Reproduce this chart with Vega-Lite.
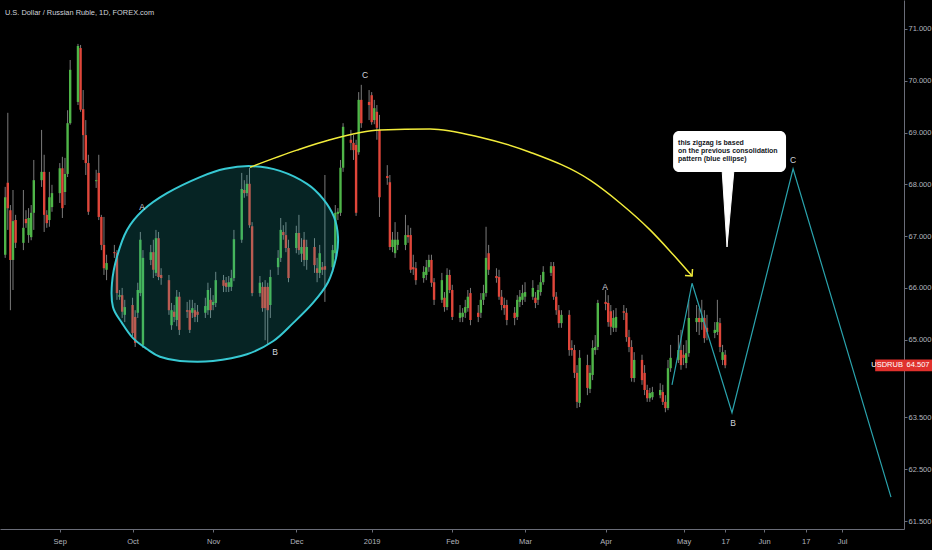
{
"$schema": "https://vega.github.io/schema/vega-lite/v6.json",
"width": 904, "height": 529,
"autosize": {"type": "none"},
"padding": {"left": 0, "top": 0, "right": 28, "bottom": 21},
"background": "#000000",
"config": {"view": {"stroke": null}, "font": "Liberation Sans, sans-serif"},
"datasets": {
"candles": [
{"d":"2018-08-10","o":65.61,"h":66.83,"l":65.54,"c":66.73},
{"d":"2018-08-13","o":66.64,"h":67.95,"l":66.58,"c":67.75},
{"d":"2018-08-14","o":68.03,"h":69.38,"l":67.12,"c":67.54},
{"d":"2018-08-15","o":67.50,"h":67.60,"l":65.57,"c":66.54},
{"d":"2018-08-16","o":66.54,"h":67.89,"l":65.96,"c":67.29},
{"d":"2018-08-17","o":67.31,"h":67.41,"l":66.77,"c":66.87},
{"d":"2018-08-20","o":66.87,"h":67.89,"l":66.73,"c":67.16},
{"d":"2018-08-21","o":67.33,"h":67.50,"l":67.16,"c":67.25},
{"d":"2018-08-22","o":67.02,"h":67.54,"l":66.87,"c":67.35},
{"d":"2018-08-23","o":66.98,"h":67.60,"l":66.92,"c":67.45},
{"d":"2018-08-24","o":67.45,"h":68.47,"l":67.12,"c":68.08},
{"d":"2018-08-27","o":68.08,"h":69.05,"l":67.95,"c":68.24},
{"d":"2018-08-28","o":68.24,"h":68.57,"l":67.08,"c":67.41},
{"d":"2018-08-29","o":67.41,"h":67.50,"l":67.16,"c":67.25},
{"d":"2018-08-30","o":67.31,"h":68.24,"l":67.18,"c":67.75},
{"d":"2018-08-31","o":67.56,"h":67.99,"l":67.47,"c":67.83},
{"d":"2018-09-03","o":67.83,"h":68.41,"l":67.64,"c":68.31},
{"d":"2018-09-04","o":68.31,"h":68.53,"l":67.35,"c":67.54},
{"d":"2018-09-05","o":67.85,"h":68.51,"l":67.60,"c":68.20},
{"d":"2018-09-06","o":68.20,"h":69.43,"l":68.14,"c":69.18},
{"d":"2018-09-07","o":69.18,"h":70.40,"l":69.15,"c":70.21},
{"d":"2018-09-10","o":69.59,"h":70.71,"l":69.53,"c":70.67},
{"d":"2018-09-11","o":70.63,"h":70.69,"l":69.40,"c":69.44},
{"d":"2018-09-12","o":69.45,"h":69.82,"l":68.47,"c":68.95},
{"d":"2018-09-13","o":68.95,"h":69.24,"l":68.18,"c":68.41},
{"d":"2018-09-14","o":68.41,"h":68.57,"l":67.41,"c":67.47},
{"d":"2018-09-17","o":68.06,"h":68.28,"l":67.93,"c":68.08},
{"d":"2018-09-18","o":68.22,"h":68.57,"l":67.31,"c":67.37},
{"d":"2018-09-19","o":67.37,"h":67.41,"l":66.73,"c":66.83},
{"d":"2018-09-20","o":66.83,"h":67.37,"l":66.25,"c":66.38},
{"d":"2018-09-21","o":66.35,"h":66.64,"l":66.15,"c":66.48},
{"d":"2018-09-24","o":66.69,"h":66.83,"l":66.58,"c":66.67},
{"d":"2018-09-25","o":66.67,"h":66.73,"l":65.77,"c":65.90},
{"d":"2018-09-26","o":65.83,"h":65.96,"l":65.77,"c":65.86},
{"d":"2018-09-27","o":65.86,"h":66.00,"l":65.42,"c":65.54},
{"d":"2018-09-28","o":65.48,"h":65.77,"l":65.34,"c":65.63},
{"d":"2018-10-01","o":65.67,"h":65.81,"l":65.07,"c":65.13},
{"d":"2018-10-02","o":65.44,"h":65.57,"l":64.86,"c":64.94},
{"d":"2018-10-03","o":65.52,"h":66.10,"l":65.42,"c":65.96},
{"d":"2018-10-04","o":65.90,"h":67.08,"l":65.84,"c":66.93},
{"d":"2018-10-05","o":64.90,"h":66.73,"l":64.84,"c":66.58},
{"d":"2018-10-08","o":66.54,"h":66.83,"l":66.44,"c":66.69},
{"d":"2018-10-09","o":66.69,"h":66.93,"l":66.19,"c":66.35},
{"d":"2018-10-10","o":66.29,"h":67.12,"l":66.23,"c":66.96},
{"d":"2018-10-11","o":66.96,"h":67.08,"l":66.15,"c":66.21},
{"d":"2018-10-12","o":66.25,"h":66.38,"l":66.06,"c":66.19},
{"d":"2018-10-15","o":66.15,"h":66.25,"l":65.48,"c":65.57},
{"d":"2018-10-16","o":65.28,"h":65.71,"l":65.19,"c":65.57},
{"d":"2018-10-17","o":65.54,"h":65.67,"l":65.34,"c":65.44},
{"d":"2018-10-18","o":65.38,"h":65.96,"l":65.26,"c":65.83},
{"d":"2018-10-19","o":65.83,"h":65.92,"l":65.09,"c":65.19},
{"d":"2018-10-22","o":65.57,"h":65.73,"l":65.42,"c":65.54},
{"d":"2018-10-23","o":65.57,"h":65.77,"l":65.13,"c":65.19},
{"d":"2018-10-24","o":65.52,"h":65.77,"l":65.42,"c":65.61},
{"d":"2018-10-25","o":65.57,"h":65.71,"l":65.34,"c":65.44},
{"d":"2018-10-26","o":65.54,"h":65.67,"l":65.34,"c":65.48},
{"d":"2018-10-29","o":65.52,"h":65.81,"l":65.42,"c":65.65},
{"d":"2018-10-30","o":65.57,"h":66.10,"l":65.48,"c":65.96},
{"d":"2018-10-31","o":65.77,"h":66.00,"l":65.42,"c":65.57},
{"d":"2018-11-01","o":65.67,"h":65.86,"l":65.57,"c":65.73},
{"d":"2018-11-02","o":65.71,"h":66.31,"l":65.63,"c":66.15},
{"d":"2018-11-05","o":66.15,"h":66.25,"l":65.92,"c":66.04},
{"d":"2018-11-06","o":66.10,"h":66.21,"l":65.92,"c":66.02},
{"d":"2018-11-07","o":66.02,"h":66.23,"l":65.92,"c":66.11},
{"d":"2018-11-08","o":66.02,"h":66.35,"l":65.94,"c":66.19},
{"d":"2018-11-09","o":66.19,"h":67.12,"l":66.13,"c":66.94},
{"d":"2018-11-12","o":66.93,"h":68.22,"l":66.87,"c":67.91},
{"d":"2018-11-13","o":67.89,"h":68.08,"l":67.74,"c":67.83},
{"d":"2018-11-14","o":67.83,"h":68.18,"l":67.77,"c":68.01},
{"d":"2018-11-15","o":68.01,"h":68.32,"l":67.16,"c":67.21},
{"d":"2018-11-16","o":67.19,"h":67.27,"l":65.84,"c":65.90},
{"d":"2018-11-19","o":65.90,"h":66.23,"l":65.83,"c":66.10},
{"d":"2018-11-20","o":66.02,"h":66.11,"l":65.54,"c":65.61},
{"d":"2018-11-21","o":66.02,"h":66.15,"l":64.99,"c":65.61},
{"d":"2018-11-22","o":66.02,"h":66.10,"l":64.90,"c":65.57},
{"d":"2018-11-23","o":65.67,"h":66.35,"l":65.42,"c":66.21},
{"d":"2018-11-26","o":66.40,"h":66.73,"l":66.25,"c":66.58},
{"d":"2018-11-27","o":66.58,"h":67.35,"l":66.50,"c":67.12},
{"d":"2018-11-28","o":67.08,"h":67.21,"l":66.93,"c":67.02},
{"d":"2018-11-29","o":67.02,"h":67.27,"l":66.69,"c":66.77},
{"d":"2018-11-30","o":66.77,"h":66.93,"l":66.11,"c":66.19},
{"d":"2018-12-03","o":66.77,"h":67.20,"l":66.67,"c":67.06},
{"d":"2018-12-04","o":67.06,"h":67.41,"l":66.64,"c":66.73},
{"d":"2018-12-05","o":66.66,"h":66.96,"l":66.50,"c":66.79},
{"d":"2018-12-06","o":66.93,"h":67.08,"l":66.42,"c":66.54},
{"d":"2018-12-07","o":66.54,"h":66.93,"l":66.35,"c":66.79},
{"d":"2018-12-10","o":66.79,"h":66.96,"l":66.29,"c":66.44},
{"d":"2018-12-11","o":66.38,"h":66.58,"l":66.11,"c":66.29},
{"d":"2018-12-12","o":66.29,"h":66.83,"l":66.19,"c":66.67},
{"d":"2018-12-13","o":66.40,"h":66.50,"l":66.25,"c":66.35},
{"d":"2018-12-14","o":66.42,"h":68.18,"l":65.73,"c":66.35},
{"d":"2018-12-17","o":66.40,"h":66.83,"l":66.31,"c":66.73},
{"d":"2018-12-18","o":66.67,"h":67.60,"l":66.58,"c":67.45},
{"d":"2018-12-19","o":67.43,"h":67.54,"l":67.31,"c":67.47},
{"d":"2018-12-20","o":67.45,"h":68.47,"l":67.39,"c":68.32},
{"d":"2018-12-21","o":68.32,"h":69.18,"l":68.24,"c":69.11},
{"d":"2018-12-24","o":68.86,"h":69.05,"l":68.66,"c":68.80},
{"d":"2018-12-25","o":68.80,"h":68.95,"l":68.47,"c":68.66},
{"d":"2018-12-26","o":68.76,"h":68.86,"l":67.39,"c":67.45},
{"d":"2018-12-27","o":68.62,"h":69.78,"l":68.57,"c":69.63},
{"d":"2018-12-28","o":69.63,"h":69.92,"l":69.09,"c":69.18},
{"d":"2018-12-31","o":69.59,"h":69.82,"l":69.24,"c":69.53},
{"d":"2019-01-01","o":69.72,"h":69.78,"l":69.15,"c":69.20},
{"d":"2019-01-02","o":69.24,"h":69.63,"l":69.16,"c":69.47},
{"d":"2019-01-03","o":69.40,"h":69.53,"l":68.86,"c":69.09},
{"d":"2019-01-04","o":69.05,"h":69.34,"l":67.37,"c":67.75},
{"d":"2019-01-07","o":68.16,"h":68.37,"l":67.99,"c":68.12},
{"d":"2019-01-08","o":68.04,"h":68.18,"l":66.73,"c":66.79},
{"d":"2019-01-09","o":66.79,"h":67.08,"l":66.69,"c":66.93},
{"d":"2019-01-10","o":66.67,"h":67.27,"l":66.58,"c":66.93},
{"d":"2019-01-11","o":66.83,"h":67.08,"l":66.73,"c":66.93},
{"d":"2019-01-14","o":66.83,"h":67.41,"l":66.73,"c":67.02},
{"d":"2019-01-15","o":67.02,"h":67.21,"l":66.87,"c":66.98},
{"d":"2019-01-16","o":67.02,"h":67.16,"l":66.29,"c":66.35},
{"d":"2019-01-17","o":66.40,"h":66.64,"l":66.25,"c":66.36},
{"d":"2019-01-18","o":66.38,"h":66.50,"l":66.06,"c":66.15},
{"d":"2019-01-21","o":66.19,"h":66.42,"l":66.10,"c":66.31},
{"d":"2019-01-22","o":66.25,"h":66.54,"l":66.15,"c":66.40},
{"d":"2019-01-23","o":66.40,"h":66.64,"l":66.31,"c":66.54},
{"d":"2019-01-24","o":66.54,"h":66.64,"l":66.02,"c":66.10},
{"d":"2019-01-25","o":66.11,"h":66.19,"l":65.67,"c":65.77},
{"d":"2019-01-28","o":65.77,"h":66.29,"l":65.71,"c":66.15},
{"d":"2019-01-29","o":65.81,"h":65.92,"l":65.54,"c":65.63},
{"d":"2019-01-30","o":65.63,"h":66.38,"l":65.57,"c":66.25},
{"d":"2019-01-31","o":66.25,"h":66.35,"l":65.90,"c":65.96},
{"d":"2019-02-01","o":65.96,"h":66.06,"l":65.38,"c":65.44},
{"d":"2019-02-04","o":65.42,"h":65.67,"l":65.34,"c":65.52},
{"d":"2019-02-05","o":65.44,"h":65.61,"l":65.34,"c":65.52},
{"d":"2019-02-06","o":65.52,"h":65.77,"l":65.42,"c":65.63},
{"d":"2019-02-07","o":65.61,"h":65.96,"l":65.54,"c":65.83},
{"d":"2019-02-08","o":65.90,"h":66.00,"l":65.28,"c":65.38},
{"d":"2019-02-11","o":65.52,"h":65.67,"l":65.34,"c":65.44},
{"d":"2019-02-12","o":65.52,"h":65.90,"l":65.42,"c":65.77},
{"d":"2019-02-13","o":65.77,"h":66.06,"l":65.67,"c":65.90},
{"d":"2019-02-14","o":65.90,"h":67.18,"l":65.83,"c":66.58},
{"d":"2019-02-15","o":66.67,"h":66.83,"l":66.25,"c":66.35},
{"d":"2019-02-18","o":66.23,"h":66.38,"l":66.10,"c":66.19},
{"d":"2019-02-19","o":66.21,"h":66.35,"l":65.77,"c":65.83},
{"d":"2019-02-20","o":65.83,"h":65.96,"l":65.57,"c":65.67},
{"d":"2019-02-21","o":65.67,"h":65.81,"l":65.48,"c":65.61},
{"d":"2019-02-22","o":65.67,"h":65.77,"l":65.28,"c":65.38},
{"d":"2019-02-25","o":65.52,"h":65.63,"l":65.28,"c":65.42},
{"d":"2019-02-26","o":65.44,"h":65.86,"l":65.38,"c":65.77},
{"d":"2019-02-27","o":65.73,"h":65.96,"l":65.63,"c":65.83},
{"d":"2019-02-28","o":65.77,"h":66.06,"l":65.67,"c":65.90},
{"d":"2019-03-01","o":65.83,"h":66.11,"l":65.73,"c":65.92},
{"d":"2019-03-04","o":65.83,"h":66.15,"l":65.77,"c":66.00},
{"d":"2019-03-05","o":65.81,"h":65.92,"l":65.61,"c":65.71},
{"d":"2019-03-06","o":65.77,"h":66.06,"l":65.67,"c":65.96},
{"d":"2019-03-07","o":65.92,"h":66.25,"l":65.85,"c":66.11},
{"d":"2019-03-08","o":66.11,"h":66.42,"l":66.06,"c":66.31},
{"d":"2019-03-11","o":66.29,"h":66.50,"l":66.23,"c":66.42},
{"d":"2019-03-12","o":66.42,"h":66.50,"l":65.77,"c":65.83},
{"d":"2019-03-13","o":65.83,"h":65.92,"l":65.48,"c":65.57},
{"d":"2019-03-14","o":65.57,"h":65.67,"l":65.23,"c":65.32},
{"d":"2019-03-15","o":65.32,"h":65.57,"l":65.23,"c":65.48},
{"d":"2019-03-18","o":65.48,"h":65.57,"l":64.69,"c":64.80},
{"d":"2019-03-19","o":64.84,"h":64.99,"l":64.69,"c":64.80},
{"d":"2019-03-20","o":64.80,"h":64.90,"l":64.26,"c":64.36},
{"d":"2019-03-21","o":64.36,"h":64.51,"l":63.68,"c":63.80},
{"d":"2019-03-22","o":63.78,"h":64.80,"l":63.70,"c":64.65},
{"d":"2019-03-25","o":64.51,"h":64.71,"l":63.93,"c":64.07},
{"d":"2019-03-26","o":64.05,"h":64.51,"l":63.97,"c":64.36},
{"d":"2019-03-27","o":64.32,"h":64.99,"l":64.22,"c":64.84},
{"d":"2019-03-28","o":64.80,"h":65.09,"l":64.71,"c":64.86},
{"d":"2019-03-29","o":64.86,"h":65.77,"l":64.80,"c":65.71},
{"d":"2019-04-01","o":65.73,"h":65.96,"l":65.57,"c":65.69},
{"d":"2019-04-02","o":65.71,"h":65.86,"l":65.25,"c":65.34},
{"d":"2019-04-03","o":65.55,"h":65.67,"l":65.09,"c":65.25},
{"d":"2019-04-04","o":65.23,"h":65.57,"l":65.15,"c":65.42},
{"d":"2019-04-05","o":65.23,"h":65.61,"l":65.15,"c":65.44},
{"d":"2019-04-08","o":65.55,"h":65.67,"l":65.38,"c":65.52},
{"d":"2019-04-09","o":65.52,"h":65.61,"l":64.96,"c":65.05},
{"d":"2019-04-10","o":65.05,"h":65.19,"l":64.76,"c":64.86},
{"d":"2019-04-11","o":64.86,"h":64.99,"l":64.19,"c":64.26},
{"d":"2019-04-12","o":64.26,"h":64.76,"l":64.18,"c":64.61},
{"d":"2019-04-15","o":64.61,"h":64.71,"l":64.13,"c":64.22},
{"d":"2019-04-16","o":64.36,"h":64.51,"l":63.93,"c":64.03},
{"d":"2019-04-17","o":64.03,"h":64.13,"l":63.80,"c":63.87},
{"d":"2019-04-18","o":63.87,"h":64.07,"l":63.80,"c":63.97},
{"d":"2019-04-19","o":63.89,"h":64.09,"l":63.84,"c":63.99},
{"d":"2019-04-22","o":63.93,"h":64.16,"l":63.87,"c":64.03},
{"d":"2019-04-23","o":63.99,"h":64.13,"l":63.74,"c":63.80},
{"d":"2019-04-24","o":63.80,"h":63.93,"l":63.60,"c":63.68},
{"d":"2019-04-25","o":63.68,"h":64.61,"l":63.64,"c":64.45},
{"d":"2019-04-26","o":64.45,"h":64.90,"l":64.38,"c":64.65},
{"d":"2019-04-29","o":64.61,"h":65.09,"l":64.55,"c":64.80},
{"d":"2019-04-30","o":64.80,"h":65.19,"l":64.42,"c":64.51},
{"d":"2019-05-01","o":64.71,"h":64.90,"l":64.51,"c":64.65},
{"d":"2019-05-02","o":64.55,"h":64.99,"l":64.45,"c":64.74},
{"d":"2019-05-03","o":64.74,"h":65.77,"l":64.67,"c":65.42},
{"d":"2019-05-06","o":65.34,"h":65.67,"l":65.15,"c":65.42},
{"d":"2019-05-07","o":65.42,"h":65.61,"l":65.09,"c":65.34},
{"d":"2019-05-08","o":65.34,"h":65.77,"l":65.19,"c":65.42},
{"d":"2019-05-09","o":65.42,"h":65.57,"l":64.94,"c":65.03},
{"d":"2019-05-10","o":65.23,"h":65.48,"l":64.99,"c":65.15},
{"d":"2019-05-13","o":65.13,"h":65.34,"l":65.03,"c":65.19},
{"d":"2019-05-14","o":65.15,"h":65.77,"l":65.09,"c":65.34},
{"d":"2019-05-15","o":65.32,"h":65.42,"l":64.76,"c":64.86},
{"d":"2019-05-16","o":64.61,"h":64.90,"l":64.51,"c":64.76},
{"d":"2019-05-17","o":64.71,"h":64.80,"l":64.45,"c":64.507}
],
"ellipse": [
{"i":1,"d":"2018-09-23T02:00:00Z","p":66.09},
{"i":2,"d":"2018-09-25T00:00:00Z","p":66.60},
{"i":3,"d":"2018-09-28T21:00:00Z","p":67.12},
{"i":4,"d":"2018-10-05T00:00:00Z","p":67.50},
{"i":5,"d":"2018-10-14T06:00:00Z","p":67.83},
{"i":6,"d":"2018-10-26T23:00:00Z","p":68.14},
{"i":7,"d":"2018-11-05T14:00:00Z","p":68.30},
{"i":8,"d":"2018-11-15T23:00:00Z","p":68.35},
{"i":9,"d":"2018-11-26T17:00:00Z","p":68.26},
{"i":10,"d":"2018-12-07T03:00:00Z","p":68.01},
{"i":11,"d":"2018-12-13T07:00:00Z","p":67.72},
{"i":12,"d":"2018-12-17T12:00:00Z","p":67.37},
{"i":13,"d":"2018-12-19T01:00:00Z","p":66.98},
{"i":14,"d":"2018-12-18T07:00:00Z","p":66.58},
{"i":15,"d":"2018-12-15T05:00:00Z","p":66.11},
{"i":16,"d":"2018-12-09T10:00:00Z","p":65.71},
{"i":17,"d":"2018-12-01T18:00:00Z","p":65.32},
{"i":18,"d":"2018-11-24T01:00:00Z","p":64.97},
{"i":19,"d":"2018-11-14T01:00:00Z","p":64.72},
{"i":20,"d":"2018-10-31T23:00:00Z","p":64.59},
{"i":21,"d":"2018-10-19T06:00:00Z","p":64.59},
{"i":22,"d":"2018-10-11T13:00:00Z","p":64.67},
{"i":23,"d":"2018-10-06T13:00:00Z","p":64.82},
{"i":24,"d":"2018-10-01T04:00:00Z","p":65.03},
{"i":25,"d":"2018-09-26T23:00:00Z","p":65.32},
{"i":26,"d":"2018-09-23T11:00:00Z","p":65.63}
],
"arc": [
{"d":"2018-11-15T05:00:00Z","p":68.33},
{"d":"2018-12-03T06:00:00Z","p":68.66},
{"d":"2018-12-15T23:00:00Z","p":68.86},
{"d":"2019-01-04T05:00:00Z","p":69.05},
{"d":"2019-01-23T11:00:00Z","p":69.07},
{"d":"2019-02-11T17:00:00Z","p":68.91},
{"d":"2019-03-02T22:00:00Z","p":68.62},
{"d":"2019-03-26T00:00:00Z","p":68.08},
{"d":"2019-04-06T13:00:00Z","p":67.64},
{"d":"2019-04-18T02:00:00Z","p":67.12},
{"d":"2019-04-25T19:00:00Z","p":66.71},
{"d":"2019-05-04T06:00:00Z","p":66.23}
],
"arrow": [{"d":"2019-05-04T06:00:00Z","p":66.23}],
"zigzag": [
{"d":"2019-04-26T13:00:00Z","p":64.13},
{"d":"2019-05-04T06:00:00Z","p":66.09},
{"d":"2019-05-19T15:00:00Z","p":63.59},
{"d":"2019-06-12T03:00:00Z","p":68.30},
{"d":"2019-07-19T19:00:00Z","p":61.96}
],
"labels": [
{"t":"A","d":"2018-10-04T15:00:00Z","p":67.56},
{"t":"B","d":"2018-11-24T19:00:00Z","p":64.76},
{"t":"C","d":"2018-12-29T11:00:00Z","p":70.11},
{"t":"A","d":"2019-03-31T19:00:00Z","p":66.02},
{"t":"B","d":"2019-05-20T00:00:00Z","p":63.39},
{"t":"C","d":"2019-06-12T03:00:00Z","p":68.47}
],
"box": [{"d":"2019-04-26T23:00:00Z","d2":"2019-06-09T10:00:00Z","p":69.03,"p2":68.24}],
"tail": [
{"i":1,"d":"2019-05-15T19:00:00Z","p":68.30},
{"i":2,"d":"2019-05-20T10:00:00Z","p":68.30},
{"i":3,"d":"2019-05-17T17:00:00Z","p":66.79}
],
"note": [
{"t":"this zigzag is based","d":"2019-04-28T21:00:00Z","p":68.80},
{"t":"on the previous consolidation","d":"2019-04-28T21:00:00Z","p":68.64},
{"t":"pattern (blue ellipse)","d":"2019-04-28T21:00:00Z","p":68.49}
],
"pricebox": [{"d":"2019-07-13T17:00:00Z","d2":"2019-08-04T14:00:00Z","p":64.62,"p2":64.39}],
"pricetext": [
{"t":"USDRUB","d":"2019-07-18T07:00:00Z","p":64.507},
{"t":"64.507","d":"2019-07-30T05:00:00Z","p":64.507}
],
"title": [{"t":"U.S. Dollar / Russian Ruble, 1D, FOREX.com","d":"2018-08-12T22:00:00Z","p":71.31}]
},
"encoding": {
"x": {"field":"d","type":"temporal","title":null,
 "scale":{"type":"utc","padding":0,"domain":[{"year":2018,"month":8,"date":11,"utc":true},{"year":2019,"month":7,"date":24,"hours":19,"minutes":12,"utc":true}]},
 "axis":{"values":[{"year":2018,"month":9,"date":3,"utc":true},{"year":2018,"month":10,"date":1,"utc":true},{"year":2018,"month":11,"date":1,"utc":true},{"year":2018,"month":12,"date":3,"utc":true},{"year":2019,"month":1,"date":1,"utc":true},{"year":2019,"month":2,"date":1,"utc":true},{"year":2019,"month":3,"date":1,"utc":true},{"year":2019,"month":4,"date":1,"utc":true},{"year":2019,"month":5,"date":1,"utc":true},{"year":2019,"month":5,"date":17,"utc":true},{"year":2019,"month":6,"date":1,"utc":true},{"year":2019,"month":6,"date":17,"utc":true},{"year":2019,"month":7,"date":1,"utc":true}],
 "labelExpr":"utcdate(datum.value) == 17 ? '17' : (utcmonth(datum.value) == 0 ? '2019' : utcFormat(datum.value, '%b'))",
 "grid":false,"tickSize":3,"tickColor":"#6a6d78","domainColor":"#6a6d78","labelColor":"#b2b5be","labelFontSize":7.5,"labelPadding":5,"labelFlush":false,"labelOverlap":false,"title":null}}
},
"layer": [
{"data":{"name":"candles"},"mark":{"type":"rule","color":"#7a7a7a","strokeWidth":1},
 "encoding":{"y":{"field":"l","type":"quantitative","title":null,"scale":{"domain":[61.346,71.558],"zero":false,"nice":false,"padding":0},
   "axis":{"orient":"right","values":[61.5,62,62.5,63,63.5,64,65,65.5,66,66.5,67,67.5,68,68.5,69,69.5,70,70.5,71,71.5],"format":".3f","grid":false,"tickSize":3,"tickColor":"#6a6d78","domainColor":"#6a6d78","labelColor":"#b2b5be","labelFontSize":7.5,"labelPadding":1,"labelOverlap":false,"labelFlush":false,"title":null}},
  "y2":{"field":"h"}}},
{"data":{"name":"candles"},"mark":{"type":"bar","width":2.4},
 "encoding":{"y":{"field":"o","type":"quantitative","title":null,"scale":{"domain":[61.346,71.558],"zero":false,"nice":false,"padding":0}},"y2":{"field":"c"},
  "color":{"condition":{"test":"datum.c >= datum.o","value":"#4fb548"},"value":"#e0463a"}}},
{"data":{"name":"ellipse"},"mark":{"type":"line","interpolate":"cardinal-closed","stroke":"#37c9d3","strokeWidth":2,"fill":"#1fb5b5","fillOpacity":0.2},
 "encoding":{"y":{"field":"p","type":"quantitative","title":null,"scale":{"domain":[61.346,71.558],"zero":false,"nice":false,"padding":0}},"order":{"field":"i","type":"quantitative"}}},
{"data":{"name":"arc"},"mark":{"type":"line","interpolate":"monotone","color":"#f2ec3b","strokeWidth":1.5},
 "encoding":{"y":{"field":"p","type":"quantitative","title":null,"scale":{"domain":[61.346,71.558],"zero":false,"nice":false,"padding":0}}}},
{"data":{"name":"arrow"},"mark":{"type":"point","shape":"M-1,-1L0,0L-1,1","filled":false,"color":"#f2ec3b","strokeWidth":1.5,"size":100,"angle":49,"opacity":1},
 "encoding":{"y":{"field":"p","type":"quantitative","title":null,"scale":{"domain":[61.346,71.558],"zero":false,"nice":false,"padding":0}}}},
{"data":{"name":"zigzag"},"mark":{"type":"line","color":"#2aa3ad","strokeWidth":1.2},
 "encoding":{"y":{"field":"p","type":"quantitative","title":null,"scale":{"domain":[61.346,71.558],"zero":false,"nice":false,"padding":0}}}},
{"data":{"name":"labels"},"mark":{"type":"text","color":"#d1d4dc","fontSize":8.5,"align":"center","baseline":"middle"},
 "encoding":{"y":{"field":"p","type":"quantitative","title":null,"scale":{"domain":[61.346,71.558],"zero":false,"nice":false,"padding":0}},"text":{"field":"t"}}},
{"data":{"name":"box"},"mark":{"type":"rect","color":"#ffffff","cornerRadius":6},
 "encoding":{"x2":{"field":"d2"},"y":{"field":"p","type":"quantitative","title":null,"scale":{"domain":[61.346,71.558],"zero":false,"nice":false,"padding":0}},"y2":{"field":"p2"}}},
{"data":{"name":"tail"},"mark":{"type":"line","interpolate":"linear-closed","stroke":"#ffffff","strokeWidth":1,"fill":"#ffffff"},
 "encoding":{"y":{"field":"p","type":"quantitative","title":null,"scale":{"domain":[61.346,71.558],"zero":false,"nice":false,"padding":0}},"order":{"field":"i","type":"quantitative"}}},
{"data":{"name":"note"},"mark":{"type":"text","color":"#131722","fontSize":7,"fontWeight":"bold","align":"left","baseline":"middle"},
 "encoding":{"y":{"field":"p","type":"quantitative","title":null,"scale":{"domain":[61.346,71.558],"zero":false,"nice":false,"padding":0}},"text":{"field":"t"}}},
{"data":{"name":"pricebox"},"mark":{"type":"rect","color":"#e0312d"},
 "encoding":{"x2":{"field":"d2"},"y":{"field":"p","type":"quantitative","title":null,"scale":{"domain":[61.346,71.558],"zero":false,"nice":false,"padding":0}},"y2":{"field":"p2"}}},
{"data":{"name":"pricetext"},"mark":{"type":"text","color":"#ffffff","fontSize":7.5,"align":"center","baseline":"middle"},
 "encoding":{"y":{"field":"p","type":"quantitative","title":null,"scale":{"domain":[61.346,71.558],"zero":false,"nice":false,"padding":0}},"text":{"field":"t"}}},
{"data":{"name":"title"},"mark":{"type":"text","color":"#d1d4dc","fontSize":7.4,"align":"left","baseline":"middle"},
 "encoding":{"y":{"field":"p","type":"quantitative","title":null,"scale":{"domain":[61.346,71.558],"zero":false,"nice":false,"padding":0}},"text":{"field":"t"}}}
]
}
